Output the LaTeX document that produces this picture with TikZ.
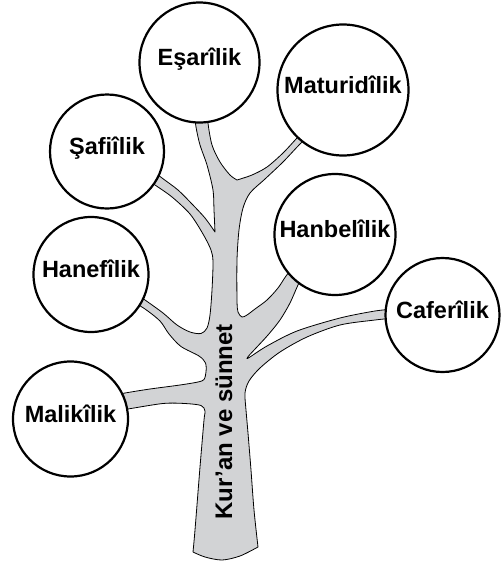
\documentclass[tikz,border=0pt]{standalone}
\usepackage{fontspec}
\setmainfont{Liberation Sans}
\definecolor{treegray}{RGB}{210,211,213}
\begin{document}
\begin{tikzpicture}[x=1pt,y=-1pt,
  school/.style={circle, draw=black, line width=2.2pt, fill=white, inner sep=0pt,
    font=\bfseries\fontsize{23.5}{28}\selectfont, text height=0.72em, text depth=0.1em},
  treeshape/.style={draw=black, line width=0.8pt, fill=treegray, line join=round}]
\useasboundingbox (0,0) rectangle (502,565);
% tree
\path[treeshape]
  plot[smooth, tension=0.5] coordinates {(193,552) (195,530) (200,467) (204,420) (205,411) (201,405.5) (185,403.5) (163,403.5) (128,409) (110,412)}
  -- plot[smooth, tension=0.5] coordinates {(110,396) (125,393) (150,389) (180,385) (198,382) (204,379.5) (206,372) (205.5,363) (199,356) (181,346.5) (169,334) (160,321) (145,309) (130,300)}
  -- plot[smooth, tension=0.5] coordinates {(133,292) (145,300) (163,313) (177,325) (190,332) (201,333.5) (207,328) (210,315) (212,290) (213,262) (211,250) (203,234) (190,214) (172,197) (155,185) (140,175)}
  -- plot[smooth, tension=0.5] coordinates {(145,165) (162,178) (178,190) (192,204) (205,218) (215,232)}
  -- plot[smooth, tension=0.5] coordinates {(215,232) (214,210) (213,190) (207,165) (200,145) (196,127) (194,110)}
  -- plot[smooth, tension=0.5] coordinates {(208,110) (208,123) (212,145) (220,162) (230,175) (237,180)}
  -- plot[smooth, tension=0.5] coordinates {(237,180) (252,175) (267,167) (283,153) (297,138) (305,130)}
  -- plot[smooth, tension=0.5] coordinates {(310,135) (300,144) (283,162) (265,179) (250,193) (243,208) (239,230) (237,260) (237,300) (238,312) (242,317) (247,315) (255,309) (267,300) (278,288) (286,276) (295,265)}
  -- plot[smooth, tension=0.5] coordinates {(305,272) (298,285) (290,303) (280,320) (268,335) (256,348) (249,355.5) (247,358.5) (250,357) (267,346) (297,331) (340,318) (375,311) (395,309)}
  -- plot[smooth, tension=0.5] coordinates {(395,318) (375,320) (340,325) (307,337) (280,352) (260,368) (249,381) (245,393) (246,410) (248,433) (251,470) (254,510) (258,547)}
  -- plot[smooth, tension=0.5] coordinates {(258,547) (240,556) (222,560) (205,557) (193,552)}
  -- cycle;
% schools
\node[school, minimum size=120pt] (esari) at (199.5,62.5) {Eşarîlik};
\node[school, minimum size=131pt] (maturidi) at (343,90) {Maturidîlik};
\node[school, minimum size=114pt] (safii) at (107,151.5) {Şafiîlik};
\node[school, minimum size=115pt] (hanefi) at (91,274.5) {Hanefîlik};
\node[school, minimum size=115pt] (maliki) at (70.5,419) {Malikîlik};
\node[school, minimum size=121pt] (hanbeli) at (335,234.5) {Hanbelîlik};
\node[school, minimum size=114pt] (caferi) at (442.5,315) {Caferîlik};
% trunk label
\node[rotate=90, anchor=base, inner sep=0pt, font=\bfseries\fontsize{24}{28}\selectfont] (trunk) at (232,422) {Kur’an ve sünnet};
\end{tikzpicture}
\end{document}
